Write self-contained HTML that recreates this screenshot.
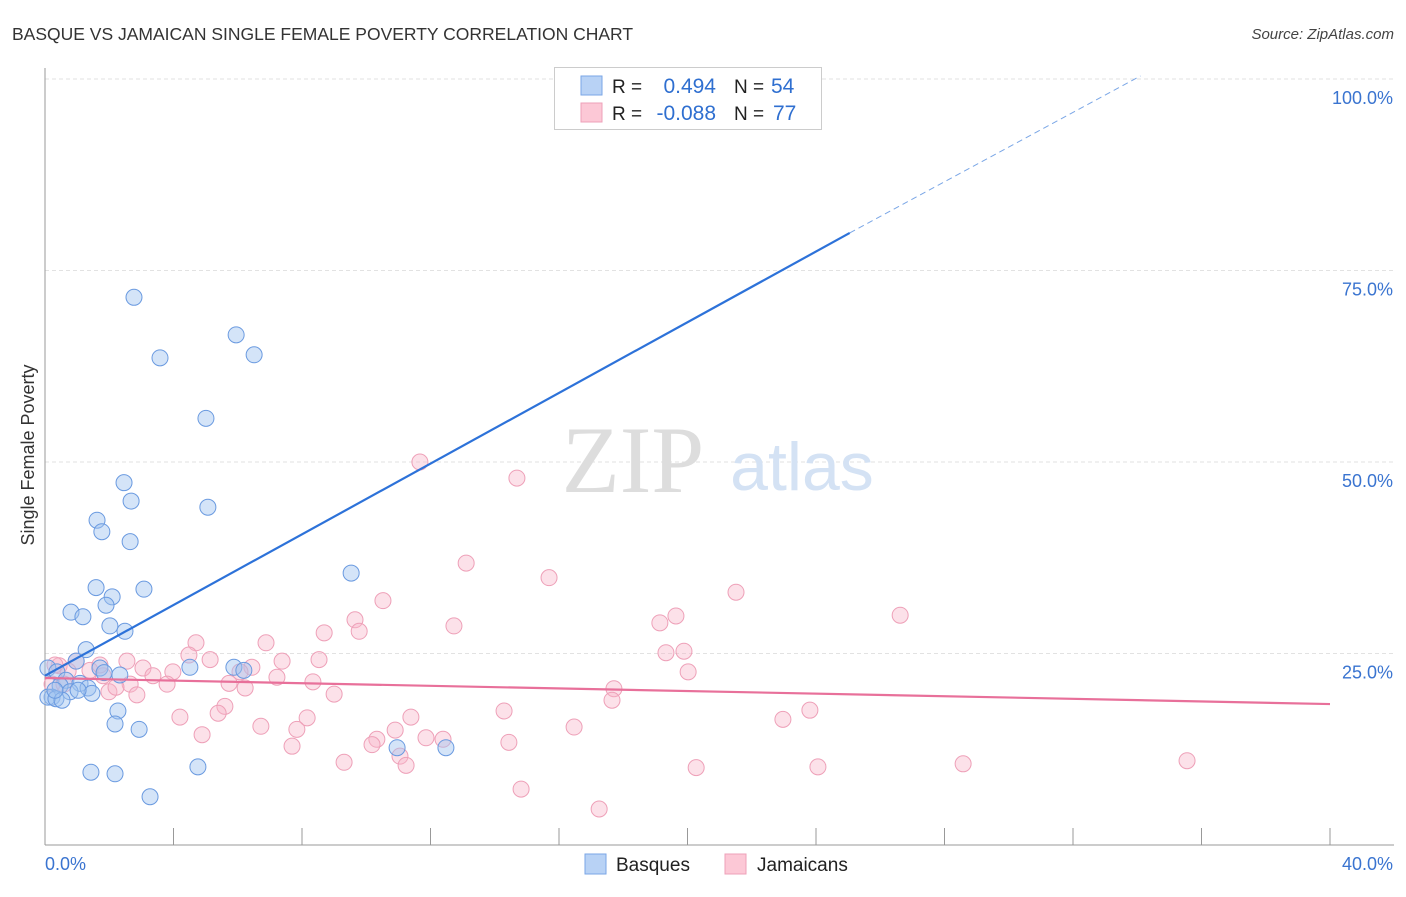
<!DOCTYPE html>
<html><head><meta charset="utf-8"><style>
body{margin:0;background:#fff;font-family:"Liberation Sans",sans-serif;}
svg text{font-family:"Liberation Sans",sans-serif;}
</style></head><body>
<svg width="1406" height="892" xmlns="http://www.w3.org/2000/svg">
<text x="12" y="40" font-size="17.5" fill="#333">BASQUE VS JAMAICAN SINGLE FEMALE POVERTY CORRELATION CHART</text>
<text x="1394" y="39" font-size="15" font-style="italic" fill="#444" text-anchor="end">Source: ZipAtlas.com</text>
<g id="grid"></g>
<text x="633" y="492" font-size="95" fill="#ddd" font-family="Liberation Serif" text-anchor="middle" style="font-family:'Liberation Serif',serif">ZIP</text>
<text x="802" y="490" font-size="68" fill="#d4e2f4" text-anchor="middle">atlas</text>
<text x="34" y="455" font-size="18" fill="#333" text-anchor="middle" transform="rotate(-90 34 455)">Single Female Poverty</text>
<g id="ticks"></g>
<g id="points"></g>
<g id="lines"></g>
<g>
<rect x="554.5" y="67.5" width="267" height="62" fill="#fff" stroke="#ccc"/>
<rect x="581" y="76" width="21" height="19" fill="#b8d2f5" stroke="#7aa6e6"/>
<rect x="581" y="103" width="21" height="19" fill="#fcc8d6" stroke="#eea0b8"/>
<text x="612" y="93" font-size="19" fill="#222">R =</text>
<text x="716" y="93" font-size="21" fill="#2f6fd0" text-anchor="end">0.494</text>
<text x="734" y="93" font-size="19" fill="#222">N =</text>
<text x="771" y="93" font-size="21" fill="#2f6fd0">54</text>
<text x="612" y="120" font-size="19" fill="#222">R =</text>
<text x="716" y="120" font-size="21" fill="#2f6fd0" text-anchor="end">-0.088</text>
<text x="734" y="120" font-size="19" fill="#222">N =</text>
<text x="773" y="120" font-size="21" fill="#2f6fd0">77</text>
</g>
<g>
<rect x="585" y="854" width="21" height="20" fill="#b8d2f5" stroke="#7aa6e6"/>
<text x="616" y="871" font-size="19" fill="#222">Basques</text>
<rect x="725" y="854" width="21" height="20" fill="#fcc8d6" stroke="#eea0b8"/>
<text x="757" y="871" font-size="19" fill="#222">Jamaicans</text>
</g>
</svg>
<script>
const xTickVals=[0,40];
const yTickVals=[25,50,75,100];
const blueX=[2.77,5.95,6.51,3.58,5.01,2.46,2.68,5.07,1.62,1.77,2.65,9.53,1.59,3.08,2.09,0.81,1.18,1.90,2.02,2.49,1.28,0.97,0.09,4.51,5.88,6.19,1.71,1.84,2.33,0.37,0.65,1.09,1.34,0.47,0.78,1.46,0.22,0.09,0.34,0.53,2.27,2.18,2.93,10.96,12.48,1.43,2.18,4.76,3.27,1.03,0.31,23.19];
const blueY=[71.5,66.6,64.0,63.6,55.7,47.3,44.9,44.1,42.4,40.9,39.6,35.5,33.6,33.4,32.4,30.4,29.8,31.3,28.6,27.9,25.5,24.0,23.1,23.2,23.2,22.8,23.1,22.5,22.2,22.6,21.5,21.1,20.5,20.8,20.0,19.8,19.3,19.3,19.1,18.9,17.5,15.8,15.1,12.7,12.7,9.5,9.3,10.2,6.3,20.2,20.2,100.1];
const pinkX=[11.67,14.69,13.11,15.69,21.51,10.52,19.64,26.62,9.65,12.73,19.14,9.78,8.69,4.70,6.88,4.48,19.89,19.33,5.14,8.53,7.38,6.44,2.55,0.97,3.05,3.98,6.07,3.36,3.80,1.81,2.65,5.73,6.23,8.34,7.22,17.71,17.65,20.02,2.86,1.99,9.00,0.44,0.72,1.40,0.22,0.59,4.20,5.60,5.39,14.29,23.81,22.97,6.72,8.16,11.39,7.84,10.90,4.89,16.47,10.33,11.86,12.39,14.44,10.18,7.69,11.05,11.24,9.31,20.27,24.06,28.58,35.55,14.82,17.25,0.31,1.71,2.21];
const pinkY=[50.0,47.9,36.8,34.9,33.0,31.9,29.9,30.0,29.4,28.6,29.0,27.9,27.7,26.4,26.4,24.8,25.3,25.1,24.2,24.2,24.0,23.2,24.0,24.0,23.1,22.6,22.6,22.1,21.0,22.1,21.0,21.1,20.5,21.3,21.9,20.4,18.9,22.6,19.6,20.0,19.7,23.4,22.7,22.8,21.0,21.0,16.7,18.1,17.2,17.5,17.6,16.4,15.5,16.6,16.7,15.1,15.0,14.4,15.4,13.8,14.0,13.8,13.4,13.1,12.9,11.6,10.4,10.8,10.1,10.2,10.6,11.0,7.3,4.7,23.5,23.5,20.6];
const blueLine=[0,22.1,25.05,79.9,34.1,100.4];
const pinkLine=[0,21.8,40,18.4];
const NS='http://www.w3.org/2000/svg';
const X0=45,X1=1330,Y0=845,Y100=79;
function sx(v){return X0+(X1-X0)*v/40;}
function sy(v){return Y0-(Y0-Y100)*v/100;}
function mk(tag,attrs,parent){const e=document.createElementNS(NS,tag);for(const k in attrs)e.setAttribute(k,attrs[k]);parent.appendChild(e);return e;}
const grid=document.getElementById('grid'),ticks=document.getElementById('ticks'),pts=document.getElementById('points'),lines=document.getElementById('lines');
yTickVals.forEach(v=>{
 const l=mk('line',{x1:X0,x2:1394,y1:sy(v),y2:sy(v),stroke:'#e2e2e2','stroke-dasharray':'4,3'},grid);
 
 
 const t=mk('text',{x:1393,y:sy(v)+25,'font-size':18,fill:'#3a74d0','text-anchor':'end'},ticks);
 t.textContent=v.toFixed(1)+'%';
 
 
});
const ax=mk('line',{x1:X0,x2:1394,y1:Y0,y2:Y0,stroke:'#999'},ticks);


const ay=mk('line',{x1:X0,x2:X0,y1:68,y2:Y0,stroke:'#999'},ticks);


for(let i=0;i<=10;i++){
 const tk=mk('line',{x1:sx(i*4),x2:sx(i*4),y1:828,y2:Y0,stroke:'#999'},ticks);
 
 
}
xTickVals.forEach((v,i)=>{
 const t=mk('text',{x:i==0?45:1393,y:870,'font-size':18,fill:'#3a74d0','text-anchor':i==0?'start':'end'},ticks);
 t.textContent=v.toFixed(1)+'%';
 
 
});
pinkX.forEach((x,i)=>{
 const c=mk('circle',{cx:sx(x),cy:sy(pinkY[i]),r:8,fill:'rgba(248,180,200,0.4)',stroke:'#eea0b8','stroke-width':1},pts);
 
 
});
blueX.forEach((x,i)=>{
 const c=mk('circle',{cx:sx(x),cy:sy(blueY[i]),r:8,fill:'rgba(160,196,240,0.45)',stroke:'#6a9ae0','stroke-width':1},pts);
 
 
});
const bl=mk('line',{x1:sx(blueLine[0]),y1:sy(blueLine[1]),x2:sx(blueLine[2]),y2:sy(blueLine[3]),stroke:'#2d72d9','stroke-width':2.2},lines);


const bd=mk('line',{x1:sx(blueLine[2]),y1:sy(blueLine[3]),x2:sx(blueLine[4]),y2:sy(blueLine[5]),stroke:'#7aa6e6','stroke-width':1,'stroke-dasharray':'6,4'},lines);


const pl=mk('line',{x1:sx(pinkLine[0]),y1:sy(pinkLine[1]),x2:sx(pinkLine[2]),y2:sy(pinkLine[3]),stroke:'#e8709a','stroke-width':2.2},lines);


</script>
</body></html>
